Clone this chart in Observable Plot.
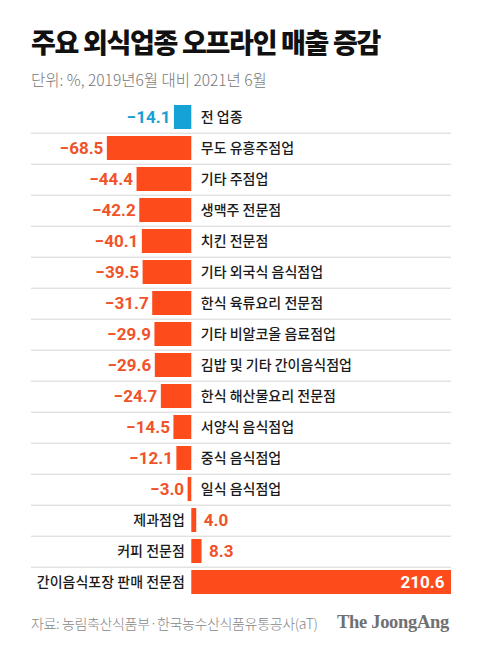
<!DOCTYPE html>
<html><head><meta charset="utf-8">
<script src="https://cdn.jsdelivr.net/npm/d3@7"></script>
<script src="https://cdn.jsdelivr.net/npm/@observablehq/plot@0.6"></script>
<style>
html,body{margin:0;padding:0;background:#fff;}
body{width:480px;height:653px;position:relative;overflow:hidden;font-family:"Noto Sans CJK KR","Noto Sans",sans-serif;}
#title{position:absolute;left:31px;top:28px;font-size:27px;font-weight:900;color:#111;letter-spacing:-1.3px;line-height:1;white-space:nowrap;}
#subtitle{position:absolute;left:31px;top:72px;font-size:15.5px;font-weight:300;color:#777;letter-spacing:0px;line-height:1;white-space:nowrap;}
#chart{position:absolute;left:0;top:98px;}
#source{position:absolute;left:31px;top:616px;font-size:14px;font-weight:300;color:#888;letter-spacing:-0.35px;line-height:1;white-space:nowrap;}
#brand{position:absolute;right:31px;top:613px;font-size:18.5px;font-weight:bold;color:#707070;font-family:"Liberation Serif","DejaVu Serif",serif;letter-spacing:-0.3px;line-height:1;white-space:nowrap;}
g[aria-label="values"] text{letter-spacing:-0.6px;}
</style>
</head><body>
<div id="title">주요 외식업종 오프라인 매출 증감</div>
<div id="subtitle">단위: %, 2019년6월 대비 2021년 6월</div>
<div id="chart"></div>
<div id="source">자료: 농림축산식품부·한국농수산식품유통공사(aT)</div>
<div id="brand">The JoongAng</div>
<script>
const categories = [
  "전 업종",
  "무도 유흥주점업",
  "기타 주점업",
  "생맥주 전문점",
  "치킨 전문점",
  "기타 외국식 음식점업",
  "한식 육류요리 전문점",
  "기타 비알코올 음료점업",
  "김밥 및 기타 간이음식점업",
  "한식 해산물요리 전문점",
  "서양식 음식점업",
  "중식 음식점업",
  "일식 음식점업",
  "제과점업",
  "커피 전문점",
  "간이음식포장 판매 전문점"
];
const values = [-14.1, -68.5, -44.4, -42.2, -40.1, -39.5, -31.7, -29.9, -29.6, -24.7, -14.5, -12.1, -3.0, 4.0, 8.3, 210.6];
const totalCategory = "전 업종";

const blue = "#15a3d6", orange = "#fd4b1c", orangeText = "#f0532a", blueText = "#1a9fd2";
const data = categories.map((c, i) => ({cat: c, value: values[i]}));
const fmt = d3.format(".1f");
const barColor = d => d.cat === totalCategory ? blue : orange;
const textColor = d => d.cat === totalCategory ? blueText : orangeText;
const step = 502 / 16;

const plot = Plot.plot({
  width: 480, height: 502,
  marginTop: 0, marginBottom: 0, marginLeft: 31, marginRight: 29,
  x: {domain: [-130, 210.6], axis: null},
  y: {domain: categories, axis: null, paddingInner: 0.234, paddingOuter: 0.117},
  color: {type: "identity"},
  style: {fontFamily: "'Noto Sans CJK KR', sans-serif", background: "transparent"},
  marks: [
    Plot.ruleY(categories.slice(0, -1), {y: d => d, dy: step / 2, stroke: "#d6d6d6", strokeWidth: 1}),
    Plot.barX(data, {x1: 0, x2: "value", y: "cat", fill: barColor}),
    Plot.text(data.filter(d => d.value < 0), {
      x: "value", y: "cat", text: d => fmt(d.value), dx: -4, textAnchor: "end",
      fill: textColor, fontSize: 17, fontWeight: "bold", fontFamily: "Roboto, sans-serif", ariaLabel: "values"
    }),
    Plot.text(data.filter(d => d.value > 0 && d.value < 100), {
      x: "value", y: "cat", text: d => fmt(d.value), dx: 7, textAnchor: "start",
      fill: textColor, fontSize: 17, fontWeight: "bold", fontFamily: "Roboto, sans-serif", ariaLabel: "values"
    }),
    Plot.text(data.filter(d => d.value >= 100), {
      x: "value", y: "cat", text: d => fmt(d.value), dx: -7, textAnchor: "end",
      fill: "#fff", fontSize: 17, fontWeight: "bold", fontFamily: "Roboto, sans-serif", ariaLabel: "values"
    }),
    Plot.text(data.filter(d => d.value < 0), {
      x: () => 0, y: "cat", text: "cat", dx: 9, textAnchor: "start",
      fill: "#1a1a1a", fontSize: 14, fontWeight: 500
    }),
    Plot.text(data.filter(d => d.value > 0), {
      x: () => 0, y: "cat", text: "cat", dx: -7, textAnchor: "end",
      fill: "#1a1a1a", fontSize: 14, fontWeight: 500
    })
  ]
});
document.getElementById("chart").appendChild(plot);
</script>
</body></html>
